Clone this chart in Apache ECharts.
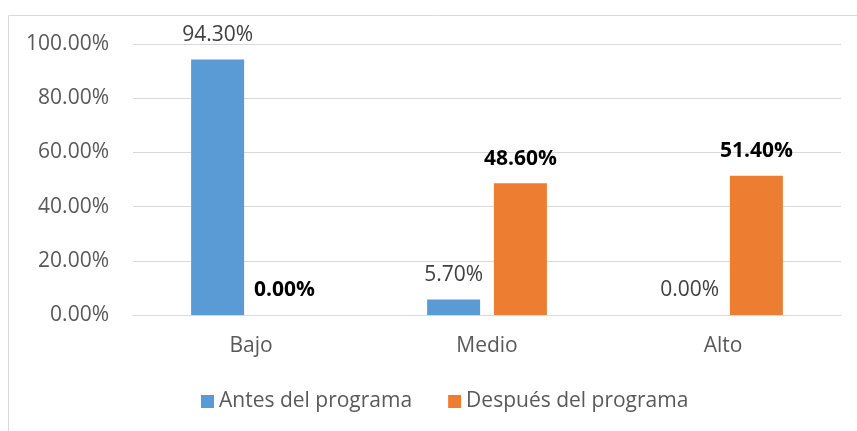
<!DOCTYPE html>
<html>
<head>
<meta charset="utf-8">
<script src="https://cdn.jsdelivr.net/npm/echarts@6/dist/echarts.min.js"></script>
<style>
  html, body { margin: 0; padding: 0; background: #fff; }
  #main { width: 857px; height: 431px; }
</style>
</head>
<body>
<div id="main"></div>
<script>
const categories = ['Bajo', 'Medio', 'Alto'];
const antes = [94.3, 5.7, 0];
const despues = [0, 48.6, 51.4];
const seriesNames = ['Antes del programa', 'Después del programa'];

const font = 'Open Sans';
const fs = 21;
const myChart = echarts.init(document.getElementById('main'));

const option = {
  backgroundColor: '#ffffff',
  textStyle: { fontFamily: font },
  graphic: [{
    type: 'rect',
    shape: { x: 8.5, y: 15.5, width: 900, height: 500 },
    style: { fill: 'none', stroke: '#d9d9d9', lineWidth: 1 },
    silent: true
  }],
  legend: {
    data: seriesNames,
    top: 386,
    left: 196,
    itemWidth: 13,
    itemHeight: 13,
    itemGap: 36,
    icon: 'rect',
    textStyle: { color: '#595959', fontSize: fs, fontFamily: font }
  },
  grid: {
    left: 133,
    right: 16,
    top: 44,
    bottom: 116
  },
  xAxis: {
    type: 'category',
    data: categories,
    axisLine: { lineStyle: { color: '#d9d9d9', width: 1 } },
    axisTick: { show: false },
    axisLabel: { color: '#595959', fontSize: fs, fontFamily: font, margin: 21 }
  },
  yAxis: {
    type: 'value',
    min: 0,
    max: 100,
    interval: 20,
    axisLine: { show: false },
    axisTick: { show: false },
    splitLine: { lineStyle: { color: '#d9d9d9', width: 1 } },
    axisLabel: {
      color: '#595959',
      fontSize: fs,
      fontFamily: font,
      margin: 24,
      formatter: v => v.toFixed(2) + '%'
    }
  },
  series: [
    {
      name: seriesNames[0],
      type: 'bar',
      data: antes,
      barWidth: 53,
      barGap: '26%',
      itemStyle: { color: '#5b9bd5' },
      label: {
        show: true,
        position: 'top',
        distance: 14,
        color: '#404040',
        fontSize: fs,
        fontFamily: font,
        formatter: p => p.value.toFixed(2) + '%'
      }
    },
    {
      name: seriesNames[1],
      type: 'bar',
      data: despues,
      barWidth: 53,
      itemStyle: { color: '#ed7d31' },
      label: {
        show: true,
        position: 'top',
        distance: 14,
        color: '#000000',
        fontWeight: 'bold',
        fontSize: fs,
        fontFamily: font,
        formatter: p => p.value.toFixed(2) + '%'
      }
    }
  ]
};

myChart.setOption(option);
</script>
</body>
</html>
